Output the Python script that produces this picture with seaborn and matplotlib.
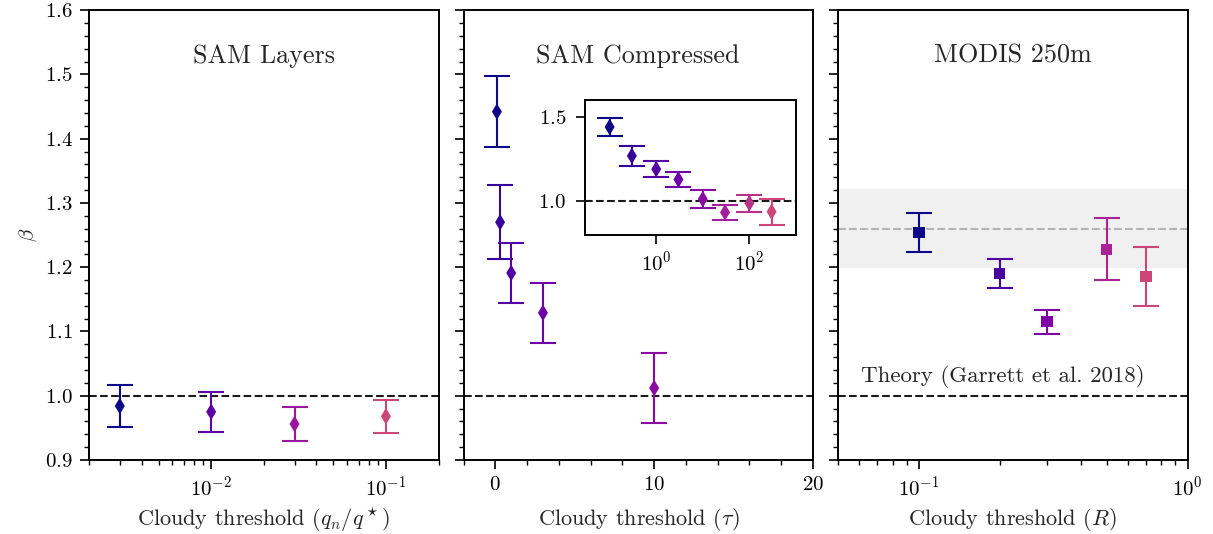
import numpy as np
import pandas as pd
import matplotlib
matplotlib.use('Agg')
import matplotlib.pyplot as plt
import seaborn as sns
from matplotlib.ticker import MultipleLocator, AutoMinorLocator, LogLocator, NullFormatter, FixedLocator

# SAM layers (threshold q_n/q*)
layers_x = [0.003, 0.01, 0.03, 0.1]
layers_beta = [0.984, 0.975, 0.956, 0.968]
layers_err = [0.032, 0.031, 0.027, 0.026]

# SAM compressed (threshold tau) - inset shows all, main panel the first five
comp_x = [0.1, 0.3, 1, 3, 10, 30, 100, 300]
comp_beta = [1.442, 1.270, 1.191, 1.129, 1.012, 0.933, 0.988, 0.937]
comp_err = [0.055, 0.058, 0.047, 0.047, 0.054, 0.045, 0.050, 0.077]
n_main = 5

# MODIS 250m (threshold R)
modis_x = [0.1, 0.2, 0.3, 0.5, 0.7]
modis_beta = [1.254, 1.190, 1.115, 1.228, 1.186]
modis_err = [0.030, 0.023, 0.019, 0.048, 0.046]
modis_mean = 1.260
modis_spread = 0.062

theory_beta = 1.0

sns.set_theme(style='ticks')
plt.rcParams['font.family'] = 'serif'
plt.rcParams['font.serif'] = ['cmr10', 'DejaVu Serif']
plt.rcParams['mathtext.fontset'] = 'cm'
plt.rcParams['axes.formatter.use_mathtext'] = True
plt.rcParams['axes.unicode_minus'] = False
plt.rcParams['axes.linewidth'] = 1.4
plt.rcParams['axes.edgecolor'] = 'black'
plt.rcParams['xtick.color'] = 'black'
plt.rcParams['ytick.color'] = 'black'
plt.rcParams['xtick.major.size'] = 6.8
plt.rcParams['ytick.major.size'] = 6.8
plt.rcParams['xtick.minor.size'] = 3.6
plt.rcParams['ytick.minor.size'] = 3.6
plt.rcParams['xtick.major.width'] = 1.2
plt.rcParams['ytick.major.width'] = 1.2
plt.rcParams['xtick.minor.width'] = 1.0
plt.rcParams['ytick.minor.width'] = 1.0
plt.rcParams['xtick.major.pad'] = 4.5
plt.rcParams['xtick.minor.pad'] = 4.5
plt.rcParams['ytick.major.pad'] = 5

TICK_FS = 15
LABEL_FS = 16
TITLE_FS = 18.8


def plasma_colors(n):
    return [matplotlib.colors.to_hex(c) for c in plt.cm.plasma(np.linspace(0, 0.5, n))]


def draw_points(ax, xs, ys, errs, colors, marker, size):
    for x, y, e, c in zip(xs, ys, errs, colors):
        ax.errorbar([x], [y], yerr=[e], fmt='none', ecolor=c, elinewidth=1.5,
                    capsize=9.4, capthick=1.5, zorder=2)
    df = pd.DataFrame({'x': xs, 'beta': ys, 'idx': [str(i) for i in range(len(xs))]})
    sns.scatterplot(data=df, x='x', y='beta', hue='idx', hue_order=list(df['idx']),
                    palette=colors, marker=marker, s=size, linewidth=0,
                    legend=False, ax=ax, zorder=3)
    ax.set_xlabel('')
    ax.set_ylabel('')


fig = plt.figure(figsize=(12.13, 5.34), dpi=100)
axes = fig.subplots(1, 3, sharey=True)
fig.subplots_adjust(left=0.0734, right=0.979, top=0.981, bottom=0.1386, wspace=0.0716)
ax1, ax2, ax3 = axes

# panel 1
draw_points(ax1, layers_x, layers_beta, layers_err, plasma_colors(len(layers_x)), 'd', 72)
ax1.set_xscale('log')
ax1.set_xlim(0.002, 0.2)
ax1.text(0.5, 0.883, 'SAM Layers', transform=ax1.transAxes, ha='center', va='baseline', fontsize=TITLE_FS)
ax1.set_xlabel(r'Cloudy threshold $(q_n/q^\star)$', fontsize=LABEL_FS)
ax1.set_ylabel(r'$\beta$', fontsize=TICK_FS)

# panel 2
comp_colors = plasma_colors(len(comp_x))
draw_points(ax2, comp_x[:n_main], comp_beta[:n_main], comp_err[:n_main], comp_colors[:n_main], 'd', 72)
ax2.set_xlim(-2, 20)
ax2.xaxis.set_major_locator(MultipleLocator(10))
ax2.xaxis.set_minor_locator(MultipleLocator(2))
ax2.text(0.5, 0.883, 'SAM Compressed', transform=ax2.transAxes, ha='center', va='baseline', fontsize=TITLE_FS)
ax2.set_xlabel(r'Cloudy threshold $(\tau)$', fontsize=LABEL_FS)

# panel 3
ax3.axhspan(modis_mean - modis_spread, modis_mean + modis_spread, color='0.94', lw=0, zorder=0)
ax3.axhline(modis_mean, color='0.7', ls='--', lw=1.5, zorder=1)
draw_points(ax3, modis_x, modis_beta, modis_err, plasma_colors(len(modis_x)), 's', 65)
ax3.set_xscale('log')
ax3.set_xlim(0.05, 1)
ax3.text(0.5, 0.883, 'MODIS 250m', transform=ax3.transAxes, ha='center', va='baseline', fontsize=TITLE_FS)
ax3.text(0.065, 1.021, 'Theory (Garrett et al. 2018)', transform=ax3.get_yaxis_transform(),
         ha='left', va='baseline', fontsize=16.5)
ax3.set_xlabel(r'Cloudy threshold $(R)$', fontsize=LABEL_FS)

for ax in axes:
    ax.axhline(theory_beta, color='k', ls='--', lw=1.5, zorder=1)
    ax.set_ylim(0.9, 1.6)
    ax.yaxis.set_major_locator(MultipleLocator(0.1))
    ax.yaxis.set_minor_locator(AutoMinorLocator(5))
    ax.tick_params(which='both', direction='out', labelsize=TICK_FS)
    for s in ax.spines.values():
        s.set_visible(True)
for ax in (ax1, ax3):
    ax.xaxis.set_minor_locator(LogLocator(base=10, subs=np.arange(2, 10)))
    ax.xaxis.set_minor_formatter(NullFormatter())
for ax in (ax2, ax3):
    ax.tick_params(axis='y', labelleft=False)
fig.align_xlabels(axes)

# inset with full set of compressed thresholds
axin = fig.add_axes([0.4825, 0.5605, 0.1737, 0.2513])
draw_points(axin, comp_x, comp_beta, comp_err, comp_colors, 'd', 72)
axin.axhline(theory_beta, color='k', ls='--', lw=1.5, zorder=1)
axin.set_xscale('log')
axin.set_xlim(0.03, 1000)
axin.set_ylim(0.8, 1.6)
axin.xaxis.set_major_locator(FixedLocator([1, 100]))
axin.xaxis.set_minor_locator(FixedLocator([]))
axin.yaxis.set_major_locator(FixedLocator([1.0, 1.5]))
axin.tick_params(which='both', direction='out', labelsize=TICK_FS)
axin.tick_params(axis='y', pad=7)
for s in axin.spines.values():
    s.set_visible(True)

fig.savefig('out.png', dpi=100)
